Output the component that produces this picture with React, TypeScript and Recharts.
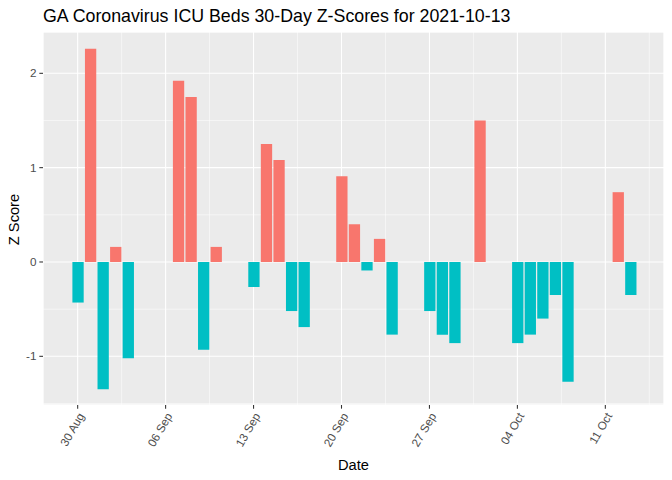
import React from "react";
import { BarChart, Bar, XAxis, YAxis, CartesianGrid, Cell } from "recharts";

const dates = [
  "2021-08-30", "2021-08-31", "2021-09-01", "2021-09-02", "2021-09-03",
  "2021-09-07", "2021-09-08", "2021-09-09", "2021-09-10", "2021-09-13",
  "2021-09-14", "2021-09-15", "2021-09-16", "2021-09-17", "2021-09-20",
  "2021-09-21", "2021-09-22", "2021-09-23", "2021-09-24", "2021-09-27",
  "2021-09-28", "2021-09-29", "2021-10-01", "2021-10-04", "2021-10-05",
  "2021-10-06", "2021-10-07", "2021-10-08", "2021-10-12", "2021-10-13",
];

const zScores = [
  -0.43, 2.26, -1.35, 0.16, -1.02,
  1.92, 1.75, -0.93, 0.16, -0.265,
  1.25, 1.08, -0.52, -0.69, 0.91,
  0.4, -0.09, 0.245, -0.77, -0.52,
  -0.77, -0.86, 1.5, -0.86, -0.77,
  -0.6, -0.35, -1.27, 0.74, -0.35,
];

const startDate = "2021-08-30";
const xTickDays = [0, 7, 14, 21, 28, 35, 42];
const xTickLabels = ["30 Aug", "06 Sep", "13 Sep", "20 Sep", "27 Sep", "04 Oct", "11 Oct"];
const xMinorDays = [3.5, 10.5, 17.5, 24.5, 31.5, 38.5, 45.5];
const yTicks = [-1, 0, 1, 2];
const yMinor = [-1.5, -0.5, 0.5, 1.5];
const xDomain = [-2.76, 46.67];
const yDomain = [-1.516, 2.438];

const title = "GA Coronavirus ICU Beds 30-Day Z-Scores for 2021-10-13";
const xLabel = "Date";
const yLabel = "Z Score";

const DAY = 86400000;
const t0 = Date.parse(startDate);
const data = dates.map((d, i) => ({
  day: Math.round((Date.parse(d) - t0) / DAY),
  z: zScores[i],
}));

const POS = "#F8766D";
const NEG = "#00BFC4";
const FONT = "'Liberation Sans', Arial, sans-serif";

const XTick = (props: any) => {
  const { x, y, payload } = props;
  const idx = xTickDays.indexOf(payload.value);
  const label = idx >= 0 ? xTickLabels[idx] : "";
  return (
    <text
      transform={`translate(${x},${y}) rotate(-60)`}
      textAnchor="end"
      dy="0.71em"
      fill="#4D4D4D"
      fontSize={11.7}
      fontFamily={FONT}
    >
      {label}
    </text>
  );
};

export default function App() {
  return (
    <div style={{ position: "absolute", left: 0, top: 0, width: 672, height: 480, background: "#fff" }}>
      <BarChart
        width={672}
        height={480}
        data={data}
        margin={{ top: 32, right: 8, bottom: 0, left: 0 }}
      >
        <CartesianGrid
          xAxisId="minor"
          yAxisId="minor"
          fill="#EBEBEB"
          stroke="#FFFFFF"
          strokeWidth={0.53}
        />
        <CartesianGrid stroke="#FFFFFF" strokeWidth={1.07} />
        <XAxis
          xAxisId="minor"
          type="number"
          dataKey="day"
          domain={xDomain}
          ticks={xMinorDays}
          interval={0}
          allowDataOverflow
          hide
        />
        <YAxis
          yAxisId="minor"
          type="number"
          domain={yDomain}
          ticks={yMinor}
          interval={0}
          allowDataOverflow
          hide
        />
        <XAxis
          dataKey="day"
          type="number"
          domain={xDomain}
          ticks={xTickDays}
          interval={0}
          allowDataOverflow
          height={75}
          axisLine={false}
          tickSize={3.67}
          tickLine={{ stroke: "#333333", strokeWidth: 1.07 }}
          tickMargin={2.93}
          tick={<XTick />}
        />
        <YAxis
          type="number"
          domain={yDomain}
          ticks={yTicks}
          interval={0}
          allowDataOverflow
          width={43}
          axisLine={false}
          tickSize={3.67}
          tickLine={{ stroke: "#333333", strokeWidth: 1.07 }}
          tickMargin={2.93}
          tick={{ fill: "#4D4D4D", fontSize: 11.7, fontFamily: FONT }}
        />
        <Bar dataKey="z" barSize={11.3} isAnimationActive={false}>
          {data.map((d, i) => (
            <Cell key={i} fill={d.z >= 0 ? POS : NEG} />
          ))}
        </Bar>
      </BarChart>
      <svg width={672} height={480} style={{ position: "absolute", left: 0, top: 0, pointerEvents: "none" }}>
        <text x={43} y={22} fontFamily={FONT} fontSize={17.8} fill="#000">
          {title}
        </text>
        <text x={353.5} y={470} textAnchor="middle" fontFamily={FONT} fontSize={14.67} fill="#000">
          {xLabel}
        </text>
        <text
          transform="translate(19.3,219.5) rotate(-90)"
          textAnchor="middle"
          fontFamily={FONT}
          fontSize={14.67}
          fill="#000"
        >
          {yLabel}
        </text>
      </svg>
    </div>
  );
}
